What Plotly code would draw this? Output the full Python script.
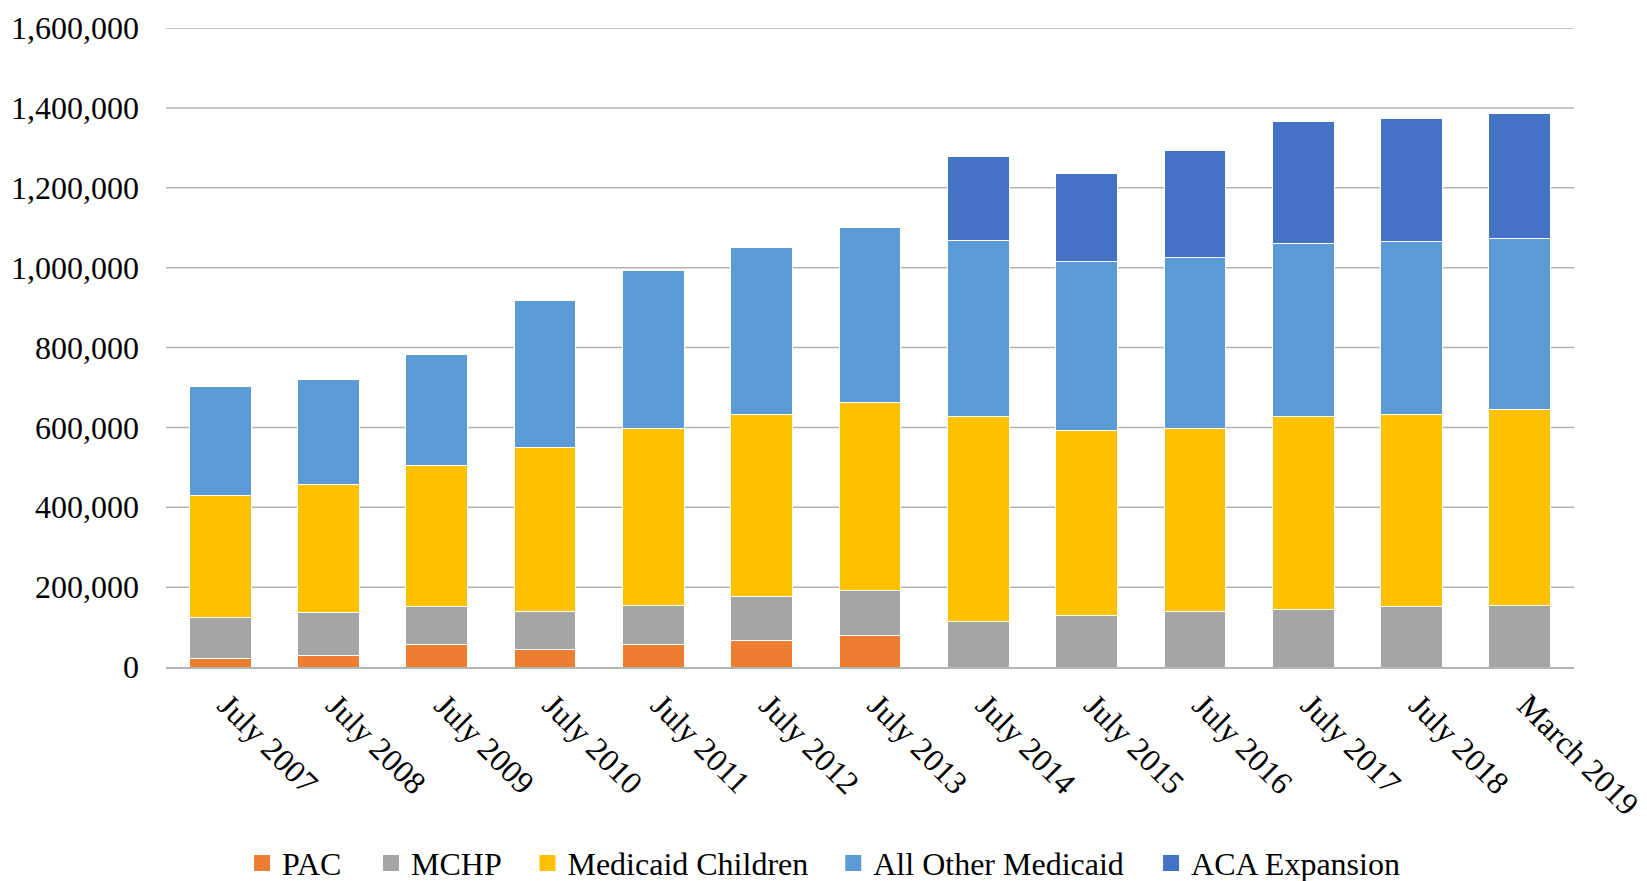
import plotly.graph_objects as go

categories = ["July 2007", "July 2008", "July 2009", "July 2010", "July 2011", "July 2012",
              "July 2013", "July 2014", "July 2015", "July 2016", "July 2017", "July 2018", "March 2019"]
pac = [22000, 29000, 56000, 44000, 56000, 66000, 79000, 0, 0, 0, 0, 0, 0]
mchp = [101000, 107000, 95000, 94000, 98000, 110000, 112000, 114000, 130000, 140000, 144000, 151000, 153000]
medicaid_children = [306000, 320000, 353000, 412000, 444000, 456000, 472000, 512000, 462000, 457000, 482000, 480000, 492000]
all_other_medicaid = [274000, 264000, 278000, 367000, 395000, 418000, 437000, 443000, 423000, 428000, 435000, 435000, 429000]
aca_expansion = [0, 0, 0, 0, 0, 0, 0, 210000, 220000, 268000, 306000, 308000, 312000]
y_ticks = [0, 200000, 400000, 600000, 800000, 1000000, 1200000, 1400000, 1600000]

series = [
    ("PAC", pac, "#ED7D31"),
    ("MCHP", mchp, "#A5A5A5"),
    ("Medicaid Children", medicaid_children, "#FFC000"),
    ("All Other Medicaid", all_other_medicaid, "#5B9BD5"),
    ("ACA Expansion", aca_expansion, "#4472C4"),
]
legend_x = [0.054, 0.1456, 0.2567, 0.4739, 0.6996]

font_family = "Liberation Serif, Times New Roman, serif"
fig = go.Figure()
legend_layout = {}
for i, (name, vals, color) in enumerate(series):
    lg = "legend" if i == 0 else f"legend{i + 1}"
    fig.add_trace(go.Bar(
        x=categories, y=vals, name=name, showlegend=False, legendgroup=name,
        marker=dict(color=color, line=dict(color="white", width=1)),
    ))
    # legend-only swatch (square marker like the original legend)
    fig.add_trace(go.Scatter(
        x=[None], y=[None], mode="markers", name=name, legendgroup=name, legend=lg,
        marker=dict(symbol="square", size=16, color=color),
    ))
    legend_layout[lg] = dict(
        orientation="h", x=legend_x[i], xanchor="left", y=-0.307, yanchor="middle",
        font=dict(size=32, family=font_family, color="black"), itemsizing="trace",
        bgcolor="rgba(0,0,0,0)", itemwidth=30,
    )

fig.update_layout(
    barmode="stack",
    bargap=0.43,
    width=1647, height=881,
    paper_bgcolor="white", plot_bgcolor="white",
    margin=dict(l=158, r=81, t=20, b=222, autoexpand=False),
    font=dict(family=font_family, size=32, color="black"),
    showlegend=True,
    **legend_layout,
)
fig.update_yaxes(
    range=[0, 1600000], tickvals=y_ticks,
    tickformat=",d", showgrid=False,
    zeroline=False, showline=False, ticks="", ticklen=0,
    tickfont=dict(size=32), ticklabelstandoff=26, automargin=False,
    ticklabeloverflow="allow",
)
fig.update_xaxes(
    tickangle=45, showline=True, linecolor="#B3B3B3", linewidth=1.5,
    ticks="", tickfont=dict(size=32), showgrid=False, automargin=False,
    ticklabelshift=7, ticklabelstandoff=5, ticklabeloverflow="allow",
)
for v in y_ticks[1:]:
    fig.add_shape(type="line", xref="paper", yref="y", x0=0, x1=1, y0=v, y1=v,
                  line=dict(color="#B3B3B3", width=1.5), layer="below")

fig.write_html("out.html")
